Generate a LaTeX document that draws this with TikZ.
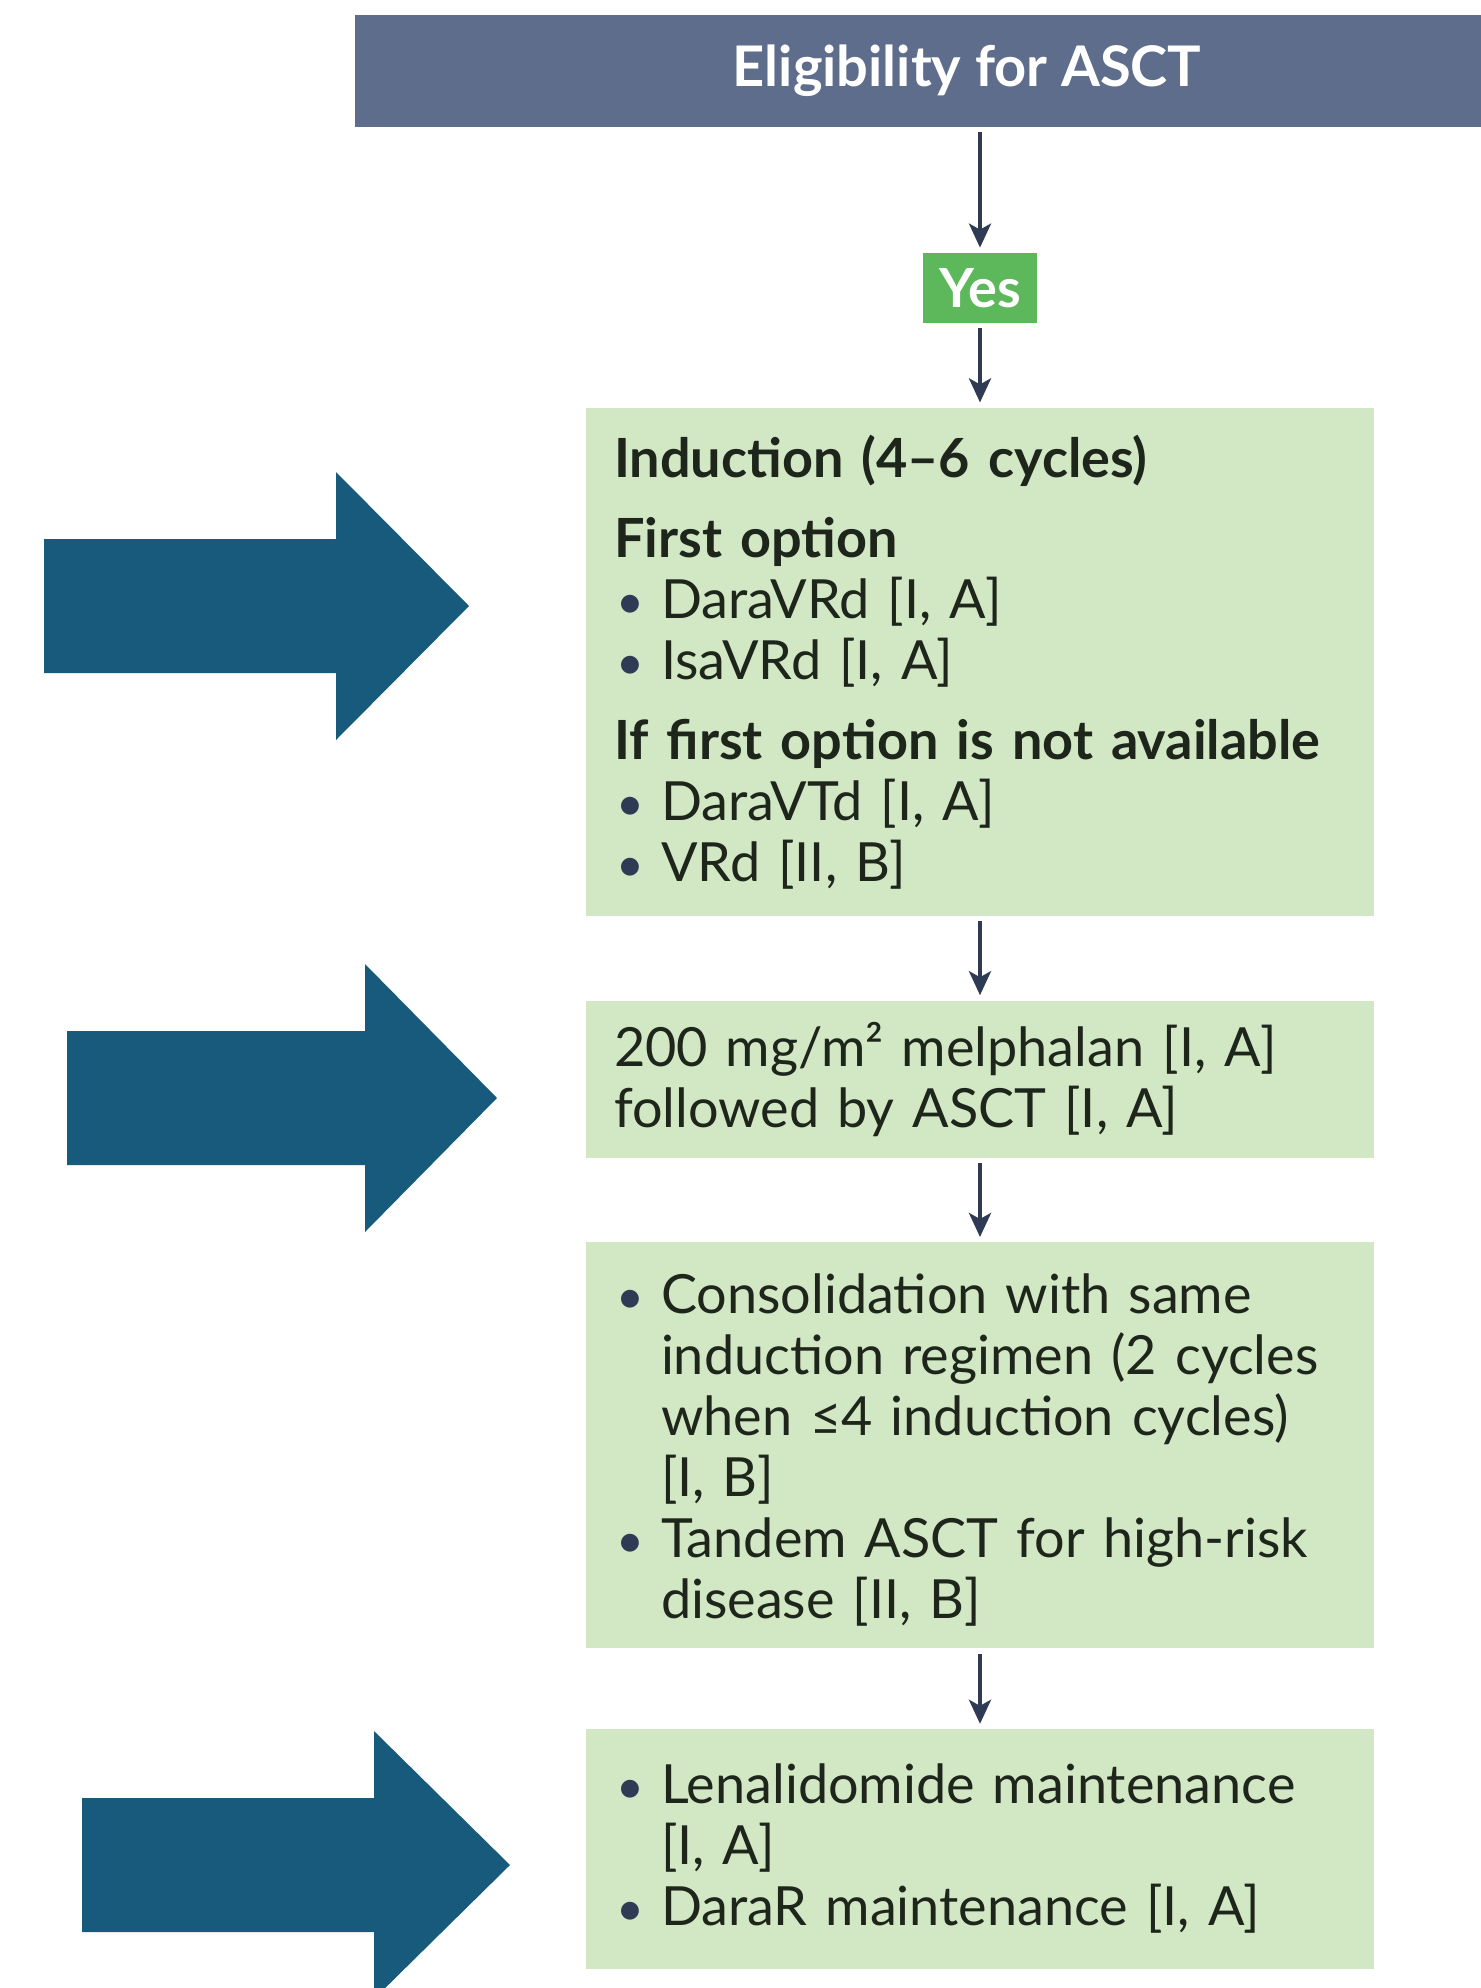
\documentclass[tikz,border=0pt]{standalone}
\usepackage{fontspec}
\setmainfont{Lato}
\usetikzlibrary{arrows.meta, positioning}

\definecolor{hdrblue}{HTML}{5E6D8B}
\definecolor{yesgreen}{HTML}{5CB85A}
\definecolor{boxgreen}{HTML}{D2E7C4}
\definecolor{fatblue}{HTML}{175A7B}
\definecolor{linecol}{HTML}{2F3A55}
\definecolor{txtcol}{HTML}{1E261C}

\setlength{\parindent}{0pt}
% bulleted line with hanging indent
\newcommand{\itm}[1]{\par\hangindent=23.5pt\hangafter=1\noindent
  \makebox[23.5pt][l]{\hspace{1pt}{\color{linecol}\fontsize{24}{24}\selectfont\textbullet}}#1\par}

\begin{document}
\begin{tikzpicture}[x=0.5pt, y=-0.5pt, >=Stealth, node distance=42pt,
    stepbox/.style={fill=boxgreen, text=txtcol, text width=366pt, inner xsep=14pt,
      inner ysep=0pt, font=\fontsize{27}{30.5}\selectfont},
    flow/.style={draw=linecol, line width=2pt, shorten >=2.5pt, shorten <=2.5pt,
      -{Stealth[length=12pt,width=11pt,inset=3pt]}}]
  \useasboundingbox (0,0) rectangle (1481,1988);

  % big arrows on the left
  \foreach \xa/\xb/\xc/\ym in {44/336/469/606, 67/365/497/1098, 82/374/510/1865}
    \fill[fatblue] (\xa,\ym-67) -- (\xb,\ym-67) -- (\xb,\ym-134) -- (\xc,\ym)
      -- (\xb,\ym+134) -- (\xb,\ym+67) -- (\xa,\ym+67) -- cycle;

  \node[fill=hdrblue, text=white, minimum width=612pt, minimum height=56pt,
    font=\fontsize{28}{28}\selectfont\bfseries] (hdr) at (967,71) {Eligibility for ASCT};
  \node[fill=yesgreen, text=white, minimum width=57pt, minimum height=35pt,
    inner sep=0pt, font=\fontsize{27}{27}\selectfont\bfseries] (yes) at (980,288) {Yes};

  \node[stepbox, minimum height=254pt, below=of yes] (induct) {%
    \textbf{Induction (4--6 cycles)}\par\vspace{9.5pt}
    \textbf{First option}
    \itm{DaraVRd [I, A]}
    \itm{IsaVRd [I, A]}
    \vspace{9.5pt}\textbf{If first option is not available}
    \itm{DaraVTd [I, A]}
    \itm{VRd [II, B]}};
  \node[stepbox, minimum height=78.5pt, below=of induct] (melph) {%
    200 mg/m² melphalan [I, A]\par
    followed by ASCT [I, A]};
  \node[stepbox, minimum height=203pt, below=of melph] (consol) {%
    \itm{Consolidation with same\newline induction regimen (2 cycles\newline
      when ≤4 induction cycles)\newline [I, B]}
    \itm{Tandem ASCT for high-risk\newline disease [II, B]}\vspace{6pt}};
  \node[stepbox, minimum height=120pt, below=40pt of consol] (maint) {%
    \itm{Lenalidomide maintenance\newline [I, A]}
    \itm{DaraR maintenance [I, A]}\vspace{11pt}};

  \draw[flow] (hdr.south -| yes.north) -- (yes);
  \draw[flow] (yes) -- (induct);
  \draw[flow] (induct) -- (melph);
  \draw[flow] (melph) -- (consol);
  \draw[flow] (consol) -- (maint);
\end{tikzpicture}
\end{document}
